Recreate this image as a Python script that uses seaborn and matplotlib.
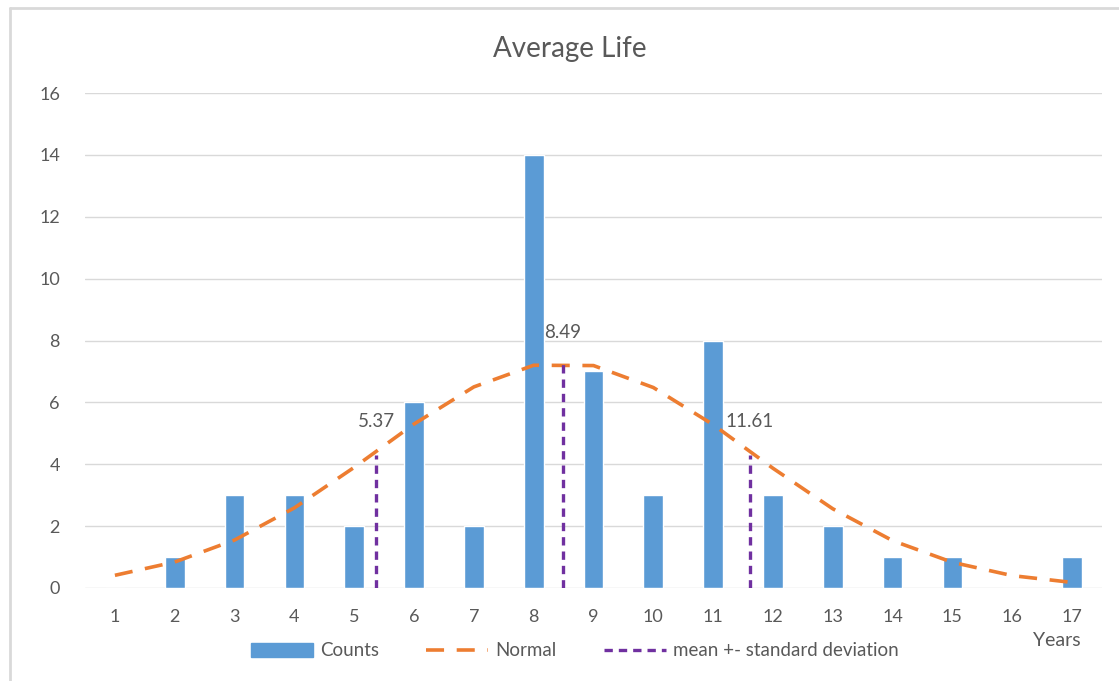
import pandas as pd
import matplotlib.pyplot as plt
import matplotlib.lines as mlines
import matplotlib.patches as mpatches
import seaborn as sns

# dados
anos = list(range(1, 18))
contagens = [0, 1, 3, 3, 2, 6, 2, 14, 7, 3, 8, 3, 2, 1, 1, 0, 1]
normal = [0.41, 0.84, 1.55, 2.59, 3.90, 5.30, 6.50, 7.20, 7.19, 6.48, 5.28, 3.87, 2.56, 1.53, 0.83, 0.40, 0.18]
media_dp = [5.37, 8.49, 11.61]
altura_dp = [4.3, 7.3, 4.3]
rotulo_y = [5.37, 8.25, 5.37]

azul = "#5B9BD5"
laranja = "#ED7D31"
roxo = "#7030A0"
cinza = "#595959"

df = pd.DataFrame({"Years": anos, "Counts": contagens, "Normal": normal})

sns.set_style("white")
plt.rcParams["font.family"] = ["Lato", "DejaVu Sans"]

fig = plt.figure(figsize=(11.19, 6.81), dpi=100)
ax = fig.add_axes([85 / 1119, 1 - 588 / 681, (1102 - 85) / 1119, (588 - 93) / 681])

sns.barplot(data=df, x="Years", y="Counts", native_scale=True, width=0.33,
            color=azul, saturation=1, ax=ax, zorder=2)
sns.lineplot(data=df, x="Years", y="Normal", color=laranja, lw=2.6,
             dashes=False, ax=ax, zorder=3).lines[-1].set_dashes([5, 3.5])
ax.vlines(media_dp, 0, altura_dp, colors=roxo, lw=2.4, linestyles=(0, (2.5, 1.8)), zorder=4)
for x, y in zip(media_dp, rotulo_y):
    ax.text(x, y, f"{x:.2f}", ha="center", va="center", fontsize=13.5, color=cinza, zorder=5)

ax.set_xlim(0.5, 17.5)
ax.set_ylim(0, 16)
ax.set_xticks(anos)
ax.set_yticks(range(0, 17, 2))
ax.tick_params(axis="both", length=0, labelsize=13, labelcolor=cinza)
ax.tick_params(axis="x", pad=15)
ax.tick_params(axis="y", pad=18)
ax.grid(axis="y", color="#D9D9D9", lw=1, zorder=0)
ax.set_axisbelow(True)
for s in ax.spines.values():
    s.set_visible(False)
ax.set_xlabel("")
ax.set_ylabel("")

fig.text(570 / 1119, 1 - 49 / 681, "Average Life", ha="center", va="center", fontsize=20, color=cinza)
fig.text(1057 / 1119, 1 - 640 / 681, "Years", ha="center", va="center", fontsize=14, color=cinza)

handles = [
    mpatches.Patch(color=azul, label="Counts"),
    mlines.Line2D([], [], color=laranja, lw=2.6, dashes=[5, 3.5], label="Normal"),
    mlines.Line2D([], [], color=roxo, lw=2.4, dashes=[2.5, 1.8], label="mean +- standard deviation"),
]
fig.legend(handles=handles, loc="center", bbox_to_anchor=(575 / 1119, 1 - 651 / 681), ncol=3,
           frameon=False, fontsize=13.5, labelcolor=cinza, handlelength=3.3, handleheight=0.75,
           columnspacing=2.5, handletextpad=0.4)

# moldura cinza do gráfico
fig.add_artist(mlines.Line2D([10 / 1119, 10 / 1119], [0, 1 - 8 / 681], color="#D9D9D9", lw=2,
                             transform=fig.transFigure))
fig.add_artist(mlines.Line2D([10 / 1119, 1], [1 - 8 / 681, 1 - 8 / 681], color="#D9D9D9", lw=2,
                             transform=fig.transFigure))

plt.savefig("out.png", dpi=100)
